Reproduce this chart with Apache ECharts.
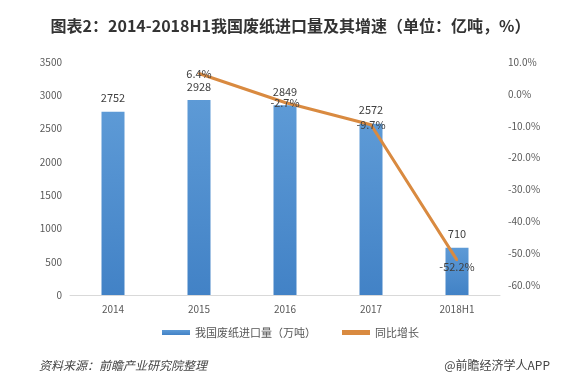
<!DOCTYPE html>
<html><head><meta charset="utf-8">
<script src="https://cdn.jsdelivr.net/npm/echarts@6/dist/echarts.min.js"></script>
<style>html,body{margin:0;padding:0;background:#fff}#c{width:581px;height:385px}</style>
</head><body><div id="c"></div>
<script>
var categories = ['2014','2015','2016','2017','2018H1'];
var importVolume = [2752, 2928, 2849, 2572, 710];
var growthRate = [null, 6.4, -2.7, -9.7, -52.2];
var leftTicks = {min: 0, max: 3500, interval: 500};
var rightTicks = {min: -60, max: 10, interval: 10};
var FONT = '"Noto Sans CJK SC", "Noto Sans", sans-serif';

var chart = echarts.init(document.getElementById('c'));
chart.setOption({
  backgroundColor: '#fff',
  animation: false,
  textStyle: {fontFamily: FONT},
  title: [
    {text: '图表2：2014-2018H1我国废纸进口量及其增速（单位：亿吨，%）', left: 'center', top: 13,
     textStyle: {fontSize: 16, fontWeight: 'bold', color: '#333', fontFamily: FONT}},
    {text: '资料来源：前瞻产业研究院整理', left: 34, top: 354,
     textStyle: {fontSize: 12, fontWeight: 'normal', fontStyle: 'italic', color: '#444', fontFamily: FONT}},
    {text: '@前瞻经济学人APP', right: 26, top: 354,
     textStyle: {fontSize: 12, fontWeight: 'normal', color: '#444', fontFamily: FONT}}
  ],
  legend: {
    top: 322, left: 'center', itemGap: 26, itemWidth: 28, itemHeight: 5,
    textStyle: {fontSize: 11, color: '#555', fontFamily: FONT},
    data: [
      {name: '我国废纸进口量（万吨）', icon: 'rect'},
      {name: '同比增长', icon: 'rect', itemStyle: {color: '#d98a40', opacity: 1}}
    ]
  },
  grid: [
    {left: 70, right: 81, top: 62, bottom: 90},
    {left: 70, right: 81, top: 62, bottom: 100}
  ],
  xAxis: [
    {type: 'category', gridIndex: 0, data: categories,
     axisLine: {lineStyle: {color: '#d9d9d9'}}, axisTick: {show: false},
     axisLabel: {color: '#595959', fontSize: 10, margin: 9}},
    {type: 'category', gridIndex: 1, data: categories, show: false}
  ],
  yAxis: [
    {type: 'value', gridIndex: 0, min: leftTicks.min, max: leftTicks.max, interval: leftTicks.interval,
     splitLine: {show: false}, axisLine: {show: false}, axisTick: {show: false},
     axisLabel: {color: '#595959', fontSize: 10, margin: 8, formatter: function (v) { return String(v); }}},
    {type: 'value', gridIndex: 1, position: 'right', min: rightTicks.min, max: rightTicks.max, interval: rightTicks.interval,
     splitLine: {show: false}, axisLine: {show: false}, axisTick: {show: false},
     axisLabel: {color: '#595959', fontSize: 10, margin: 8,
       formatter: function (v) { return v.toFixed(1) + '%'; }}}
  ],
  series: [
    {name: '我国废纸进口量（万吨）', type: 'bar', xAxisIndex: 0, yAxisIndex: 0, data: importVolume,
     barWidth: 23,
     itemStyle: {color: new echarts.graphic.LinearGradient(0, 0, 0, 1, [
       {offset: 0, color: '#5d9ad6'}, {offset: 1, color: '#4282c6'}])},
     label: {show: true, position: 'top', color: '#404040', fontSize: 11, distance: 8}},
    {name: '同比增长', type: 'line', xAxisIndex: 1, yAxisIndex: 1,
     data: growthRate.map(function (v, i) {
       var o = {value: v};
       if (i === 4) o.label = {offset: [0, 7]};
       return o;
     }),
     symbol: 'circle', symbolSize: 2, showSymbol: true, showAllSymbol: true, connectNulls: false,
     lineStyle: {color: '#d98a40', width: 3},
     itemStyle: {color: '#d98a40'},
     label: {show: true, position: 'inside',
       color: '#404040', fontSize: 11,
       formatter: function (p) { return p.value == null ? '' : p.value.toFixed(1) + '%'; }}}
  ]
});
</script></body></html>
